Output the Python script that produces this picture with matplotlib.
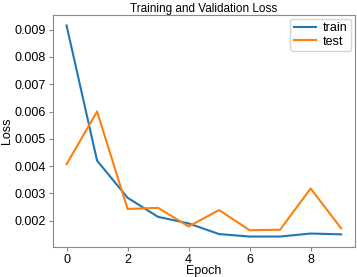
import matplotlib
matplotlib.use("Agg")
import matplotlib.pyplot as plt

epochs = list(range(10))
train_loss = [0.00915, 0.0042, 0.00284, 0.00214, 0.0019, 0.00151, 0.00142, 0.00142, 0.00153, 0.0015]
test_loss = [0.00407, 0.0060, 0.00243, 0.00247, 0.00179, 0.00239, 0.00165, 0.00167, 0.00318, 0.00172]
y_ticks = [0.002, 0.003, 0.004, 0.005, 0.006, 0.007, 0.008, 0.009]

plt.rcParams['font.family'] = ['Liberation Sans', 'DejaVu Sans']
plt.rcParams['font.size'] = 9

fig = plt.figure(figsize=(3.57, 2.77), dpi=100)
ax = fig.add_axes([0.148, 0.108, 0.846, 0.838])
ax.plot(epochs, train_loss, color='#1f77b4', lw=1.5, label='train')
ax.plot(epochs, test_loss, color='#ff7f0e', lw=1.5, label='test')
ax.set_title('Training and Validation Loss', fontsize=8.5, pad=2)
ax.set_xlabel('Epoch', labelpad=-1)
ax.set_ylabel('Loss', labelpad=1)
ax.set_xticks([0, 2, 4, 6, 8])
ax.set_yticks(y_ticks)
for s in ax.spines.values():
    s.set_color('#888888')
ax.tick_params(colors='#888888', labelcolor='black', length=3, pad=2)
ax.legend(loc='upper right', handlelength=1.8, borderpad=0.3, labelspacing=0.1,
          borderaxespad=0.3, handletextpad=0.5)
fig.savefig('out.png', dpi=100)
